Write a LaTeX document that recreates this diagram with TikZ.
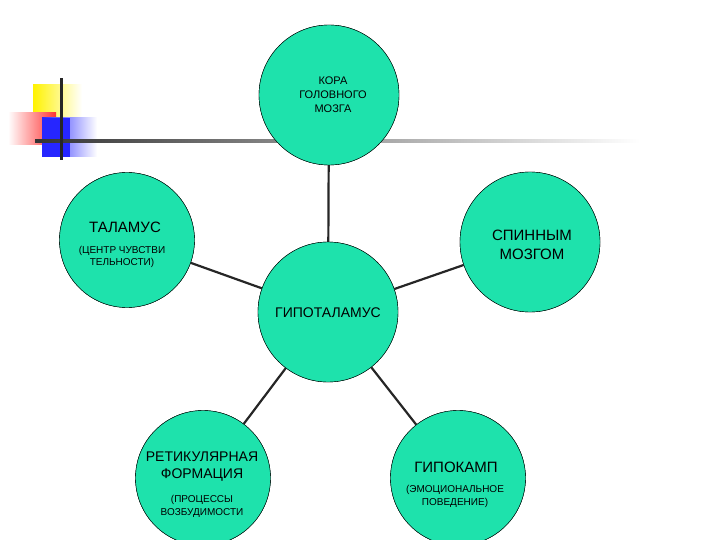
\documentclass[tikz,border=0pt]{standalone}
\usepackage{fontspec}
\setmainfont{Liberation Sans}
\definecolor{cf}{RGB}{30,226,172}
\begin{document}
\begin{tikzpicture}[x=1pt,y=-1pt,
 circ/.style={circle,draw=black,fill=cf,minimum size=140pt,inner sep=0pt,align=center},
 conn/.style={line width=2.2pt,draw=black!85}]
\useasboundingbox (0,0) rectangle (720,540);
% decoration
\shade[left color=yellow!90!orange,right color=white] (33,85) rectangle (82,120);
\shade[left color=white,right color=red!80] (8,113) rectangle (56,145);
\shade[left color=blue!85,right color=white] (42,118) rectangle (97,157);
\fill[blue!85] (42,118) rectangle (70,157);
\shade[left color=black!80,right color=white] (35,140) rectangle (640,142.5);
\fill[black!85] (59.5,78) rectangle (62.5,160);
% connectors
\node[circ] (k) at (329,95) {};
\node[circ,minimum size=135pt] (t) at (127,240) {};
\node[circ] (s) at (530,242) {};
\node[circ] (g) at (328,312) {};
\node[circ,minimum size=135pt] (r) at (203,478) {};
\node[circ,minimum size=135pt] (h) at (458,478) {};
\draw[conn] (k) -- (g);
\draw[conn] (t) -- (g);
\draw[conn] (s) -- (g);
\draw[conn] (r) -- (g);
\draw[conn] (h) -- (g);
\node[circ] at (k) {};
\node[circ,minimum size=135pt] at (t) {};
\node[circ] at (s) {};
\node[circ] at (g) {};
\node[circ,minimum size=135pt] at (r) {};
\node[circ,minimum size=135pt] at (h) {};
% texts
\node[align=center,font=\fontsize{11}{14}\selectfont] (kt) at (333,95) {КОРА\\ГОЛОВНОГО\\МОЗГА};
\node[font=\fontsize{15}{18}\selectfont] (tt) at (125,227) {ТАЛАМУС};
\node[align=center,font=\fontsize{10}{12}\selectfont] (tt2) at (122,257) {(ЦЕНТР ЧУВСТВИ\\ТЕЛЬНОСТИ)};
\node[align=center,font=\fontsize{15}{19}\selectfont] (st) at (532,245) {СПИННЫМ\\МОЗГОМ};
\node[font=\fontsize{14}{17}\selectfont] (gt) at (328,313) {ГИПОТАЛАМУС};
\node[align=center,font=\fontsize{14}{17}\selectfont] (rt) at (202,467) {РЕТИКУЛЯРНАЯ\\ФОРМАЦИЯ};
\node[align=center,font=\fontsize{10}{13}\selectfont] (rt2) at (202,506) {(ПРОЦЕССЫ\\ВОЗБУДИМОСТИ};
\node[font=\fontsize{15}{18}\selectfont] (ht) at (456,467) {ГИПОКАМП};
\node[align=center,font=\fontsize{10}{13}\selectfont] (ht2) at (455,496) {(ЭМОЦИОНАЛЬНОЕ\\ПОВЕДЕНИЕ)};
\end{tikzpicture}
\end{document}
